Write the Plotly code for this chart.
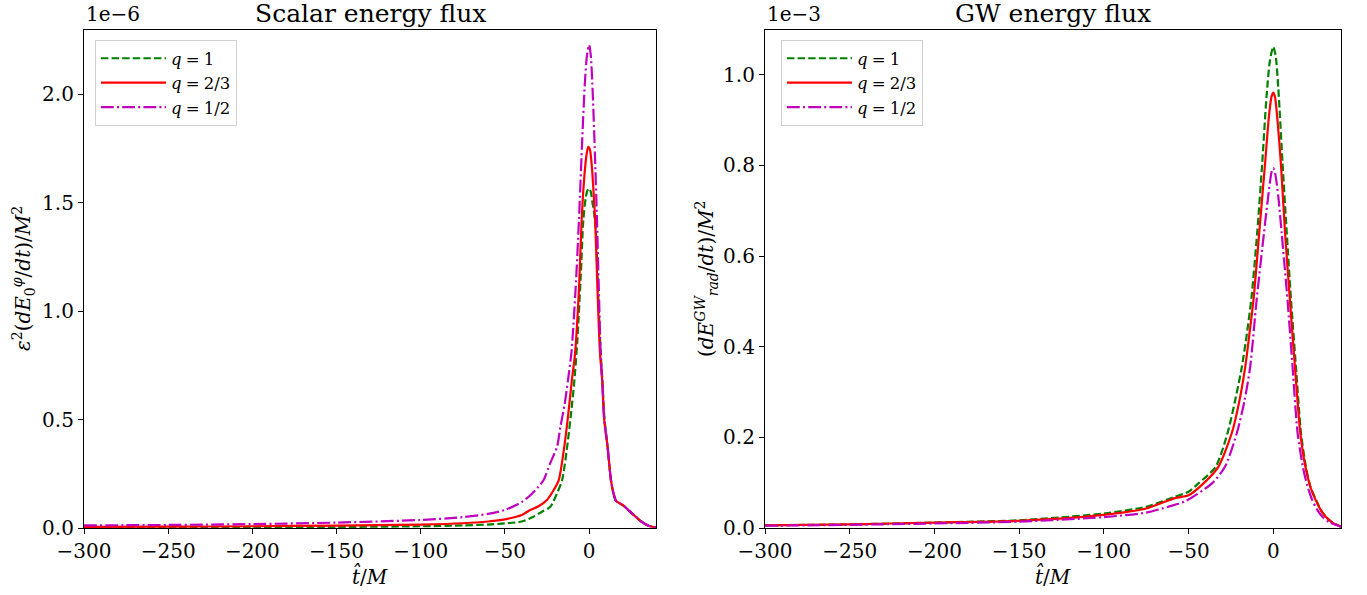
import plotly.graph_objects as go

# ---------------- data ----------------
# Left panel: scalar energy flux, values in units of 1e-6
t_sc_q1 = [-300, -250, -200, -150, -100, -75, -60, -50, -40, -33, -28, -23, -19, -16, -13, -10.7, -8.7, -7, -5, -3.4, -2, -1, 0,
           1, 2, 3, 4, 5.3, 6.9, 7.9, 9.2, 11, 13, 14.5, 16, 18, 21, 24, 27, 31, 35, 40]
sc_q1 = [0.002, 0.003, 0.004, 0.005, 0.008, 0.012, 0.016, 0.021, 0.03, 0.052, 0.075, 0.098, 0.16, 0.221, 0.375, 0.528, 0.682, 0.86, 1.15, 1.42, 1.52, 1.555, 1.565,
         1.55, 1.5, 1.45, 1.38, 1.1, 0.806, 0.682, 0.5, 0.375, 0.221, 0.16, 0.125, 0.115, 0.1, 0.078, 0.057, 0.03, 0.012, 0.002]

t_sc_q23 = [-300, -250, -200, -150, -100, -75, -60, -50, -40, -35, -30, -25, -21, -18, -14.7, -12.3, -10.2, -8.3, -6, -4.4, -3, -1.5, -0.5,
            0.5, 1.5, 2.5, 3.6, 5, 6.5, 7.8, 9, 11, 13, 14.5, 16, 18, 21, 24, 27, 31, 35, 40]
sc_q23 = [0.005, 0.006, 0.008, 0.011, 0.016, 0.022, 0.03, 0.04, 0.06, 0.083, 0.1, 0.129, 0.175, 0.221, 0.375, 0.528, 0.682, 0.806, 1.1, 1.42, 1.6, 1.72, 1.757,
          1.745, 1.68, 1.57, 1.42, 1.1, 0.806, 0.682, 0.5, 0.375, 0.221, 0.16, 0.125, 0.115, 0.1, 0.078, 0.057, 0.03, 0.012, 0.002]

t_sc_q12 = [-300, -250, -200, -150, -100, -75, -60, -50, -40, -35, -30, -27, -23, -19, -17, -14.5, -12.5, -10.5, -8, -6, -4, -2.5, -1.2, 0,
            1, 2.2, 3.5, 4.7, 5.8, 6.9, 8, 9, 11, 13, 14.5, 16, 18, 21, 24, 27, 31, 35, 40]
sc_q12 = [0.012, 0.014, 0.018, 0.025, 0.037, 0.05, 0.065, 0.083, 0.12, 0.15, 0.19, 0.221, 0.3, 0.375, 0.467, 0.57, 0.682, 0.806, 1.1, 1.42, 1.8, 2.05, 2.18, 2.226,
          2.18, 2.0, 1.72, 1.42, 1.1, 0.806, 0.65, 0.5, 0.375, 0.221, 0.16, 0.125, 0.115, 0.1, 0.078, 0.057, 0.03, 0.012, 0.002]

# Right panel: GW energy flux, values in units of 1e-3
t_gw_q1 = [-300, -250, -200, -150, -100, -75, -58, -50, -44, -34, -27, -22, -18.5, -15.5, -12.8, -9.5, -6.5, -4, -2, 0,
           1.5, 3, 5.5, 8, 10.5, 13.4, 16.4, 19.3, 22, 25.3, 28, 31, 35, 40]
gw_q1 = [0.006, 0.008, 0.012, 0.017, 0.032, 0.047, 0.069, 0.08, 0.099, 0.135, 0.209, 0.29, 0.356, 0.43, 0.51, 0.65, 0.805, 0.95, 1.03, 1.062,
         1.04, 0.97, 0.805, 0.65, 0.503, 0.356, 0.209, 0.135, 0.09, 0.062, 0.04, 0.025, 0.012, 0.003]

t_gw_q23 = [-300, -250, -200, -150, -100, -75, -58, -50, -41, -32.4, -24.5, -20, -16.5, -14, -11.6, -8.3, -4.8, -2.5, -1, 0,
            1, 2.5, 4.5, 7, 9.8, 12.8, 16, 19, 22, 25, 28, 31, 35, 40]
gw_q23 = [0.006, 0.008, 0.012, 0.016, 0.029, 0.043, 0.066, 0.072, 0.099, 0.135, 0.209, 0.28, 0.356, 0.43, 0.505, 0.65, 0.805, 0.91, 0.952, 0.961,
          0.952, 0.9, 0.805, 0.65, 0.505, 0.356, 0.209, 0.135, 0.09, 0.062, 0.04, 0.025, 0.012, 0.003]

t_gw_q12 = [-300, -250, -200, -150, -100, -75, -62, -52, -36, -28.5, -21.5, -17, -13.6, -9.8, -5.5, -3, -1, 0,
            1, 3, 5, 8.5, 11.4, 14.4, 17.5, 20, 23, 26, 29, 33, 40]
gw_q12 = [0.005, 0.007, 0.01, 0.014, 0.024, 0.034, 0.047, 0.059, 0.099, 0.135, 0.209, 0.28, 0.356, 0.503, 0.65, 0.731, 0.785, 0.794,
          0.785, 0.731, 0.65, 0.5, 0.356, 0.209, 0.135, 0.095, 0.062, 0.04, 0.025, 0.013, 0.003]

labels = ["<i>q</i>\u2005=\u20051", "<i>q</i>\u2005=\u20052/3", "<i>q</i>\u2005=\u20051/2"]
x_ticks = [-300, -250, -200, -150, -100, -50, 0]

# ---------------- styles ----------------
FONT = "DejaVu Serif"
W, H = 1367, 595
colors = ["#008000", "#ff0000", "#bf00bf"]
dashes = ["7.4px,3.2px", "solid", "12.8px,3.2px,2px,3.2px"]
TICK_SIZE = 20
TITLE_SIZE = 25
LEG_SIZE = 16.5

def px(v):
    return v / W

def py(v):
    return 1 - v / H

fig = go.Figure()

left_series = [(t_sc_q1, sc_q1), (t_sc_q23, sc_q23), (t_sc_q12, sc_q12)]
right_series = [(t_gw_q1, gw_q1), (t_gw_q23, gw_q23), (t_gw_q12, gw_q12)]

for i, (t, v) in enumerate(left_series):
    fig.add_trace(go.Scatter(x=t, y=v, mode="lines", name=labels[i],
                             line=dict(color=colors[i], width=2.2, dash=dashes[i], shape="spline", smoothing=0.7),
                             xaxis="x", yaxis="y", legend="legend"))
for i, (t, v) in enumerate(right_series):
    fig.add_trace(go.Scatter(x=t, y=v, mode="lines", name=labels[i],
                             line=dict(color=colors[i], width=2.2, dash=dashes[i], shape="spline", smoothing=0.7),
                             xaxis="x2", yaxis="y2", legend="legend2"))

axis_common = dict(showline=True, linecolor="black", linewidth=1.2, mirror=True,
                   ticks="outside", ticklen=5, tickwidth=1.2, tickcolor="black",
                   showgrid=False, zeroline=False, automargin=False,
                   tickfont=dict(family=FONT, size=TICK_SIZE, color="black"))

ydom = [py(528), py(30)]
leg_common = dict(xanchor="left", yanchor="top",
                  bgcolor="rgba(255,255,255,0.8)", bordercolor="#d0d0d0", borderwidth=1,
                  font=dict(family=FONT, size=LEG_SIZE, color="black"), itemwidth=65, tracegroupgap=0)
fig.update_layout(
    template="none",
    font=dict(family=FONT, size=TICK_SIZE, color="black"),
    width=W, height=H,
    margin=dict(l=0, r=0, t=0, b=0, autoexpand=False),
    paper_bgcolor="white", plot_bgcolor="white",
    xaxis=dict(domain=[px(84), px(656.4)], range=[-300, 40], tickvals=x_ticks, anchor="y", **axis_common),
    yaxis=dict(domain=ydom, range=[0, 2.295], dtick=0.5, tickformat=".1f", anchor="x", **axis_common),
    xaxis2=dict(domain=[px(765), px(1341)], range=[-300, 40], tickvals=x_ticks, anchor="y2", **axis_common),
    yaxis2=dict(domain=ydom, range=[0, 1.099], dtick=0.2, tickformat=".1f", anchor="x2", **axis_common),
    legend=dict(x=px(95), y=py(40), **leg_common),
    legend2=dict(x=px(781), y=py(40), **leg_common),
    showlegend=True,
)

ann_font = dict(family=FONT, size=TICK_SIZE, color="black")
annotations = [
    dict(text="Scalar energy flux", x=(84 + 656.4) / 2 / W, y=py(13), font=dict(family=FONT, size=TITLE_SIZE, color="black")),
    dict(text="GW energy flux", x=(765 + 1341) / 2 / W, y=py(13), font=dict(family=FONT, size=TITLE_SIZE, color="black")),
    dict(text="1e\u22126", x=px(84), y=py(14), xanchor="left", font=ann_font),
    dict(text="1e\u22123", x=px(765), y=py(14), xanchor="left", font=ann_font),
    dict(text="<i>t\u0302</i>/<i>M</i>", x=(84 + 656.4) / 2 / W, y=py(576), font=ann_font),
    dict(text="<i>t\u0302</i>/<i>M</i>", x=(765 + 1341) / 2 / W, y=py(576), font=ann_font),
    dict(text="<i>\u03b5</i><sup>2</sup>(<i>dE</i><sub>0</sub><sup><i>\u03c6</i></sup>/<i>dt</i>)/<i>M</i><sup>2</sup>",
         x=px(23), y=py(279), textangle=-90, font=ann_font),
    dict(text="(<i>dE</i><sup><i>GW</i></sup><sub><i>rad</i></sub>/<i>dt</i>)/<i>M</i><sup>2</sup>",
         x=px(706), y=py(279), textangle=-90, font=ann_font),
]
for a in annotations:
    a.update(xref="paper", yref="paper", showarrow=False, xanchor=a.get("xanchor", "center"), yanchor="middle")
fig.update_layout(annotations=annotations)

fig.write_html("out.html")
